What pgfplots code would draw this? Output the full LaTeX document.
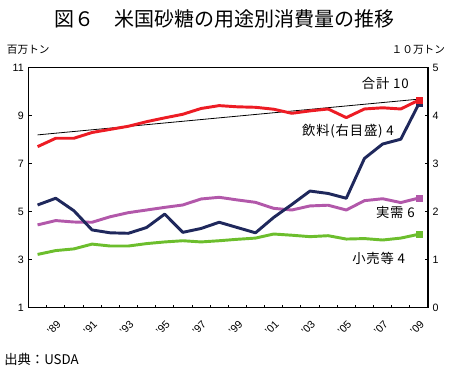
\documentclass[border=0pt]{standalone}
\usepackage{fontspec}
\setmainfont{Liberation Sans}
\newfontfamily\jp{Noto Sans CJK JP}
\newfontfamily\jpl[LetterSpace=6]{Noto Sans CJK JP}
\usepackage{pgfplots}
\pgfplotsset{compat=1.18}
\definecolor{cRed}{RGB}{237,28,36}
\definecolor{cNavy}{RGB}{31,40,92}
\definecolor{cPurple}{RGB}{178,88,170}
\definecolor{cGreen}{RGB}{108,190,45}
\begin{document}
\begin{tikzpicture}
\path[use as bounding box] (0,0) rectangle (337.5pt,280.5pt);
\begin{axis}[
  at={(21.375pt,49.725pt)}, anchor=south west,
  scale only axis, width=299.625pt, height=180pt,
  xmin=1987.5, xmax=2009.5, ymin=1, ymax=11,
  xtick={1989,1991,...,2009},
  xticklabels={'89,'91,'93,'95,'97,'99,'01,'03,'05,'07,'09},
  minor xtick={1988.5,1989.5,...,2008.5},
  major x tick style={draw=none},
  minor tick length=2.2pt,
  ytick={1,3,...,11},
  major tick length=2.5pt,
  tick align=inside,
  xtick pos=bottom, ytick pos=left,
  axis line style={line width=0.8pt},
  tick style={black, line width=0.6pt},
  ticklabel style={font=\fontsize{8}{9}\selectfont},
  xticklabel style={rotate=45, anchor=east, yshift=-9.5pt, xshift=-2.5pt},
  /pgf/number format/assume math mode=true,
  clip=false,
]
\addplot[black, line width=0.6pt] coordinates {(1988,8.2) (2009,9.69)};
\addplot[cPurple, line width=2.2pt, line join=round] coordinates {
(1988,4.45)(1989,4.63)(1990,4.57)(1991,4.56)(1992,4.79)(1993,4.96)(1994,5.07)(1995,5.18)(1996,5.28)(1997,5.53)(1998,5.6)(1999,5.49)(2000,5.39)(2001,5.14)(2002,5.07)(2003,5.24)(2004,5.27)(2005,5.07)(2006,5.46)(2007,5.54)(2008,5.38)(2009,5.57)};
\addplot[cPurple, only marks, mark=square*, mark size=2.2pt] coordinates {(2009,5.57)};
\addplot[cGreen, line width=2.2pt, line join=round] coordinates {
(1988,3.22)(1989,3.38)(1990,3.45)(1991,3.65)(1992,3.57)(1993,3.57)(1994,3.67)(1995,3.74)(1996,3.79)(1997,3.74)(1998,3.79)(1999,3.85)(2000,3.9)(2001,4.07)(2002,4.02)(2003,3.96)(2004,4.0)(2005,3.86)(2006,3.88)(2007,3.82)(2008,3.9)(2009,4.06)};
\addplot[cGreen, only marks, mark=square*, mark size=2.2pt] coordinates {(2009,4.06)};
\addplot[cRed, line width=2.2pt, line join=round] coordinates {
(1988,7.71)(1989,8.06)(1990,8.06)(1991,8.3)(1992,8.43)(1993,8.56)(1994,8.75)(1995,8.91)(1996,9.06)(1997,9.3)(1998,9.42)(1999,9.37)(2000,9.35)(2001,9.27)(2002,9.1)(2003,9.2)(2004,9.28)(2005,8.92)(2006,9.28)(2007,9.33)(2008,9.28)(2009,9.65)};
\end{axis}
\begin{axis}[
  at={(21.375pt,49.725pt)}, anchor=south west,
  scale only axis, width=299.625pt, height=180pt,
  xmin=1987.5, xmax=2009.5, ymin=0, ymax=5,
  axis x line=none, axis y line*=right,
  ytick={0,1,...,5},
  major tick length=2.5pt,
  tick align=inside,
  axis line style={line width=0.8pt, -},
  tick style={black, line width=0.6pt},
  ticklabel style={font=\fontsize{8}{9}\selectfont},
  /pgf/number format/assume math mode=true,
  clip=false,
]
\addplot[cNavy, line width=2.2pt, line join=round] coordinates {
(1988,2.14)(1989,2.28)(1990,2.02)(1991,1.62)(1992,1.56)(1993,1.55)(1994,1.67)(1995,1.95)(1996,1.57)(1997,1.65)(1998,1.78)(1999,1.67)(2000,1.56)(2001,1.88)(2002,2.15)(2003,2.43)(2004,2.38)(2005,2.28)(2006,3.11)(2007,3.41)(2008,3.51)(2009,4.25)};
\addplot[cNavy, only marks, mark=square*, mark size=2.2pt] coordinates {(2009,4.25)};
\end{axis}
\begin{axis}[
  at={(21.375pt,49.725pt)}, anchor=south west,
  scale only axis, width=299.625pt, height=180pt,
  xmin=1987.5, xmax=2009.5, ymin=1, ymax=11,
  hide axis, clip=false,
]
\addplot[cRed, only marks, mark=square*, mark size=2.2pt] coordinates {(2009,9.65)};
\end{axis}
\node[font=\jp\fontsize{15}{16}\selectfont] at (168pt,266pt) {図６　米国砂糖の用途別消費量の推移};
\node[font=\jp\fontsize{8}{9}\selectfont, anchor=west, inner sep=0pt] at (5pt,243.5pt) {百万トン};
\node[font=\jp\fontsize{8}{9}\selectfont, anchor=east, inner sep=0pt] at (334pt,243.5pt) {１０万トン};
\node[font=\jpl\fontsize{10}{11}\selectfont] at (289pt,218.25pt) {合計 10};
\node[font=\jpl\fontsize{10}{11}\selectfont] at (261pt,182.25pt) {飲料(右目盛) 4};
\node[font=\jpl\fontsize{10}{11}\selectfont] at (296.5pt,121.5pt) {実需 6};
\node[font=\jpl\fontsize{10}{11}\selectfont] at (284pt,87pt) {小売等 4};
\node[font=\jp\fontsize{10}{11}\selectfont, anchor=west, inner sep=0pt] at (3pt,11pt) {出典：USDA};
\end{tikzpicture}
\end{document}
